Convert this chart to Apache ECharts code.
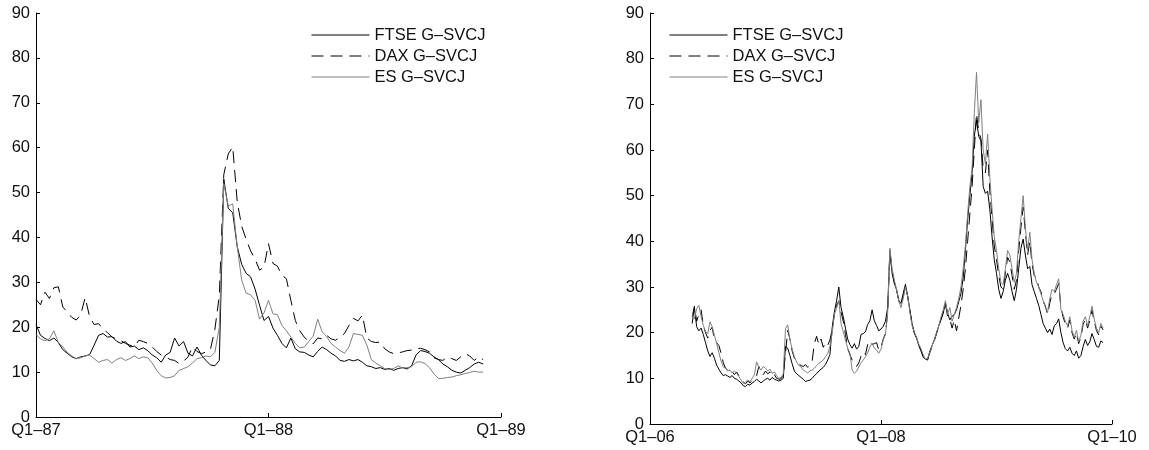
<!DOCTYPE html>
<html>
<head>
<meta charset="utf-8">
<script src="https://cdn.jsdelivr.net/npm/echarts@6/dist/echarts.min.js"></script>
<style>
html,body{margin:0;padding:0;background:#fff;}
#chart{width:1149px;height:450px;}
</style>
</head>
<body>
<div id="chart"></div>
<script>
// ---------- DATA (weekly readings) ----------
const seriesNames = ['FTSE G–SVCJ', 'DAX G–SVCJ', 'ES G–SVCJ'];
const leftTickLabels = ['Q1–87', 'Q1–88', 'Q1–89'];
const rightTickLabels = ['Q1–06', 'Q1–08', 'Q1–10'];
const yTicks = [0, 10, 20, 30, 40, 50, 60, 70, 80, 90];

// Left panel: weeks 0..100 from Q1-87
const leftStartWeek = 0;
const leftFTSE = [20.6,18.2,17.5,17.0,17.6,16.6,15.0,14.2,13.4,13.0,
13.4,13.6,13.9,16.0,18.2,18.6,17.8,17.9,16.9,16.4,
16.8,15.6,15.8,15.0,15.4,14.8,13.8,13.2,12.2,13.8,
14.4,17.6,15.8,16.8,14.2,13.6,15.6,13.8,12.6,11.6,
11.4,12.6,53.0,46.5,45.5,38.0,34.0,32.0,31.2,28.5,
24.9,21.5,22.4,19.8,18.2,16.4,15.4,17.6,15.2,14.5,
14.4,13.8,13.4,14.6,15.6,15.0,14.2,13.6,12.6,12.4,
12.8,12.5,12.8,12.2,11.4,11.2,10.8,11.0,10.6,10.8,
10.4,10.8,11.0,10.7,11.4,13.8,14.8,14.6,14.2,13.4,
12.8,11.8,11.2,10.4,10.0,9.8,10.4,11.0,11.8,12.2,
11.8];
const leftDAX = [26.2,25.0,27.8,26.4,28.8,29.0,24.5,23.4,22.2,21.6,
22.8,26.6,22.3,20.6,20.8,19.6,18.8,17.8,17.4,17.0,
16.4,16.0,15.6,17.1,16.8,16.4,15.6,14.6,13.8,13.4,
12.8,12.6,11.9,12.4,13.4,15.6,14.6,14.1,14.5,15.0,
19.5,27.0,54.0,58.6,60.2,48.0,42.5,39.6,37.0,35.2,
32.7,33.4,38.6,34.2,33.6,31.6,30.8,26.0,21.5,19.2,
17.8,16.8,16.3,17.6,17.4,18.2,17.4,17.1,17.8,18.6,
20.4,22.0,21.4,22.7,17.6,16.8,16.6,16.7,15.2,14.5,
14.1,14.3,14.5,14.8,14.9,15.2,15.3,15.0,14.5,13.2,
12.8,12.6,13.4,13.0,12.6,13.4,14.1,13.6,12.6,13.4,
12.8];
const leftES = [18.4,17.4,17.0,17.4,19.2,16.6,15.6,14.4,13.6,13.0,
13.2,13.6,13.8,13.0,12.2,12.6,12.8,12.0,12.8,13.2,
12.6,13.0,13.6,13.0,13.4,13.2,12.0,10.4,9.2,8.7,
8.8,9.2,10.4,10.8,11.2,12.0,13.0,13.2,13.6,13.4,
14.4,20.0,52.0,47.0,47.5,38.0,30.5,27.6,27.2,26.0,
21.8,23.2,26.0,23.0,22.8,20.4,19.2,17.8,16.4,15.4,
15.6,16.8,18.0,21.8,19.0,17.9,16.4,15.6,14.8,14.2,
15.6,18.6,18.4,18.2,16.0,12.8,12.0,11.4,10.8,10.6,
10.8,11.4,10.9,11.0,11.2,12.2,12.3,11.9,11.0,9.6,
8.6,8.6,8.8,8.9,9.2,9.4,9.7,9.9,10.2,10.0,
10.0];

// Right panel: weeks 19..204 from Q1-06
const rightStartWeek = 19;
const rightFTSE = [22.0,25.5,21.3,20.4,21.0,19.6,17.8,16.0,14.8,15.6,
14.4,12.9,12.0,11.2,10.6,10.8,10.5,10.2,10.6,10.0,
9.8,9.4,9.0,8.4,8.2,8.7,8.5,9.0,9.3,9.8,
9.4,9.0,9.4,9.8,10.0,9.6,10.2,9.8,9.6,9.4,
9.6,10.0,17.0,16.6,15.0,13.2,11.6,11.0,10.6,10.2,
9.8,9.3,9.5,9.6,10.0,10.6,11.0,11.6,12.0,12.4,
13.0,14.0,15.2,21.0,24.5,27.0,30.0,25.5,23.5,21.0,
18.6,17.4,16.6,17.6,16.4,17.0,19.6,19.8,20.2,21.8,
22.6,25.0,22.6,21.6,20.4,20.8,21.4,22.5,25.5,38.0,
33.0,30.8,29.4,27.0,26.4,28.6,30.6,28.0,25.0,22.0,
19.9,18.8,17.2,16.0,14.6,14.2,14.0,16.0,17.2,18.4,
19.9,21.5,22.8,24.2,26.5,24.2,22.8,23.6,24.0,25.0,
26.8,28.6,32.0,38.0,44.7,50.0,55.0,63.0,66.5,63.0,
62.0,52.0,50.5,51.0,47.0,41.0,36.0,33.0,29.5,27.5,
29.0,31.5,33.0,31.5,29.0,27.0,29.5,34.0,38.5,40.5,
37.0,34.0,34.5,30.5,29.0,27.5,26.0,24.0,22.0,21.0,
20.0,20.8,19.6,21.5,22.0,23.0,20.0,17.8,16.5,16.0,
16.8,15.5,15.0,16.0,14.4,15.0,17.0,18.5,17.2,18.0,
19.8,18.5,17.0,16.8,18.2,17.8];
const rightDAX = [23.5,25.8,22.5,24.0,25.0,21.6,20.0,18.8,20.5,21.2,
18.4,17.8,17.2,15.5,13.4,12.2,11.8,11.0,11.4,10.8,
11.4,10.6,9.8,9.2,8.8,9.4,9.0,9.6,10.0,10.6,
12.6,11.4,10.8,11.6,11.0,11.4,10.4,10.8,10.0,9.8,
9.9,10.6,15.5,20.5,18.6,16.0,14.4,13.8,13.2,12.8,
12.6,13.0,12.4,13.2,13.8,17.6,19.2,17.4,18.6,16.8,
17.8,17.2,18.4,20.6,24.0,26.0,27.0,24.5,22.5,19.6,
16.5,15.2,14.0,13.2,12.6,13.4,14.8,15.8,15.2,17.4,
18.2,17.4,17.6,17.8,16.2,16.8,18.6,19.8,24.5,37.5,
33.5,31.0,29.5,27.0,26.0,28.0,30.2,28.0,24.8,21.8,
20.0,18.9,17.4,16.2,14.8,14.0,14.2,15.6,17.0,18.2,
19.8,21.2,23.0,24.4,26.2,23.6,23.0,21.0,22.8,20.4,
23.2,26.0,29.5,34.0,40.0,46.0,52.0,60.0,68.0,64.0,
62.5,56.0,55.0,60.0,51.0,45.0,39.0,36.0,32.5,30.0,
29.5,33.0,36.5,35.5,32.5,29.5,31.5,38.0,43.0,47.5,
42.0,37.0,40.0,35.0,32.5,32.0,30.0,29.0,27.0,25.8,
24.0,26.5,28.5,28.5,29.5,30.8,25.5,23.4,22.0,21.0,
22.8,20.0,18.6,20.0,17.6,19.0,21.8,23.0,21.0,22.6,
25.0,22.4,20.5,19.5,21.4,20.6];
const rightES = [24.2,23.0,25.2,26.0,23.5,21.6,20.2,19.8,22.4,21.3,
19.4,17.7,15.6,13.8,12.5,12.2,11.6,11.8,11.2,11.6,
11.1,10.4,9.6,8.9,9.2,9.6,9.3,10.0,10.8,13.6,
12.4,11.8,12.6,12.2,11.6,12.0,11.1,11.4,10.6,10.0,
10.2,11.0,20.9,21.7,18.4,16.4,14.7,13.6,12.8,12.5,
11.8,11.5,11.2,11.6,11.8,12.2,12.8,13.3,13.6,14.0,
14.7,15.4,17.0,19.8,24.0,25.3,27.1,22.0,20.2,18.4,
16.6,15.5,11.8,11.1,11.6,12.5,13.4,14.0,14.7,15.6,
16.9,17.7,16.6,16.2,15.5,16.4,18.4,19.6,24.2,38.5,
34.0,31.5,29.5,27.0,25.5,27.5,30.0,28.0,24.5,21.5,
20.0,19.0,17.5,16.5,15.2,14.2,14.4,15.8,17.2,18.4,
20.0,21.5,23.4,25.0,27.0,24.0,25.5,22.5,24.0,25.5,
27.5,30.0,34.0,39.0,46.0,52.0,56.0,68.0,77.0,66.0,
71.0,60.0,57.0,63.5,54.0,47.0,41.0,38.0,34.0,31.0,
30.5,34.0,38.0,37.0,34.0,31.0,33.0,40.0,45.0,50.0,
43.0,38.0,42.0,36.0,33.0,31.0,30.0,28.5,27.0,25.5,
24.5,27.5,29.5,29.0,30.5,31.8,25.0,24.0,22.5,21.5,
23.5,20.5,19.0,20.5,18.0,19.5,22.5,23.5,21.5,23.5,
25.8,23.0,21.0,20.0,22.0,21.0];

// ---------- CHART ----------
const FONT = '"Liberation Sans", Arial, Helvetica, sans-serif';
const TXT = '#111';
const styles = [
  {color: '#000000', type: 'solid'},
  {color: '#000000', type: [12, 7]},
  {color: '#808080', type: 'solid'}
];
function pairs(arr, start) { return arr.map((v, i) => [start + i, v]); }

const panels = [
  {data: [leftFTSE, leftDAX, leftES], start: leftStartWeek, max: 104, ticks: leftTickLabels},
  {data: [rightFTSE, rightDAX, rightES], start: rightStartWeek, max: 208, ticks: rightTickLabels}
];

const series = [];
panels.forEach((p, pi) => {
  p.data.forEach((arr, si) => {
    series.push({
      name: seriesNames[si], type: 'line', xAxisIndex: pi, yAxisIndex: pi,
      data: pairs(arr, p.start), symbol: 'none', showSymbol: false, smooth: false,
      animation: false, silent: true,
      lineStyle: {color: styles[si].color, width: 1, type: styles[si].type},
      itemStyle: {color: styles[si].color}
    });
  });
});

function xAxis(pi) {
  const p = panels[pi];
  const step = p.max / (p.ticks.length - 1);
  return {
    gridIndex: pi, type: 'value', min: 0, max: p.max, interval: step,
    axisLine: {show: true, onZero: false, lineStyle: {color: '#000', width: 1}},
    axisTick: {show: true, inside: true, length: 4, lineStyle: {color: '#000'}},
    axisLabel: {show: true, margin: 5, color: TXT, fontSize: 16.5, fontFamily: FONT,
      showMinLabel: true, showMaxLabel: true,
      formatter: v => p.ticks[Math.round(v / step)]},
    splitLine: {show: false}
  };
}
function yAxis(pi) {
  return {
    gridIndex: pi, type: 'value', min: yTicks[0], max: yTicks[yTicks.length - 1], interval: 10,
    axisLine: {show: true, lineStyle: {color: '#000', width: 1}},
    axisTick: {show: true, inside: true, length: 4, lineStyle: {color: '#000'}},
    axisLabel: {show: true, margin: 6, color: TXT, fontSize: 16.5, fontFamily: FONT},
    splitLine: {show: false}
  };
}
function legend(left) {
  return {
    show: true, orient: 'vertical', left: left, top: 26, padding: 0,
    itemWidth: 58, itemHeight: 14, itemGap: 3, data: seriesNames,
    selectedMode: false,
    itemStyle: {opacity: 0},
    lineStyle: {width: 1},
    textStyle: {fontSize: 16.5, lineHeight: 18, color: TXT, fontFamily: FONT}
  };
}

const chart = echarts.init(document.getElementById('chart'), null, {renderer: 'canvas'});
chart.setOption({
  backgroundColor: '#ffffff',
  animation: false,
  grid: [
    {left: 36, top: 13, width: 465, height: 404},
    {left: 650, top: 13, width: 462, height: 411}
  ],
  xAxis: [xAxis(0), xAxis(1)],
  yAxis: [yAxis(0), yAxis(1)],
  legend: [legend(311), legend(669)],
  series: series
});
</script>
</body>
</html>
